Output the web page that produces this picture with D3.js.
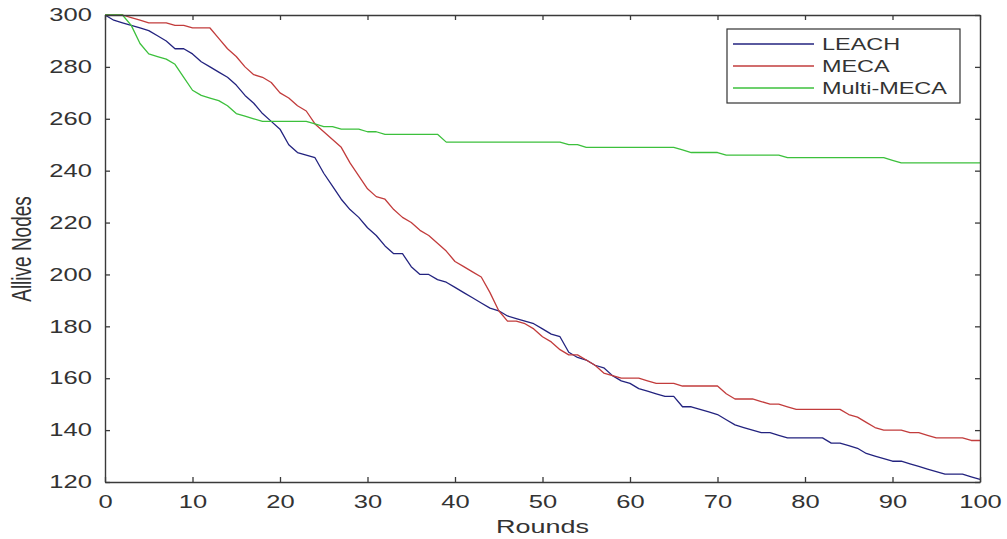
<!DOCTYPE html>
<html>
<head>
<meta charset="utf-8">
<script src="https://cdn.jsdelivr.net/npm/d3@7/dist/d3.min.js"></script>
<style>
html,body{margin:0;padding:0;background:#fff;}
svg{display:block;}
text{font-family:"Liberation Sans",Arial,Helvetica,sans-serif;fill:#333;}
</style>
</head>
<body>
<svg id="chart" width="1007" height="539"></svg>
<script>
// ---- data ----
const xTicks = [0,10,20,30,40,50,60,70,80,90,100];
const yTicks = [120,140,160,180,200,220,240,260,280,300];
const seriesNames = ["LEACH","MECA","Multi-MECA"];
const seriesColors = ["#23237f","#c23c3c","#3cc03c"];

const leach = [
300,298,297,296,295,294,292,290,287,287,
285,282,280,278,276,273,269,266,262,259,
256,250,247,246,245,239,234,229,225,222,
218,215,211,208,208,203,200,200,198,197,
195,193,191,189,187,186,184,183,182,181,
179,177,176,170,168,167,165,164,161,159,
158,156,155,154,153,153,149,149,148,147,
146,144,142,141,140,139,139,138,137,137,
137,137,137,135,135,134,133,131,130,129,
128,128,127,126,125,124,123,123,123,122,
121];

const meca = [
300,300,300,299,298,297,297,297,296,296,
295,295,295,291,287,284,280,277,276,274,
270,268,265,263,258,255,252,249,243,238,
233,230,229,225,222,220,217,215,212,209,
205,203,201,199,193,186,182,182,181,179,
176,174,171,169,169,167,165,162,161,160,
160,160,159,158,158,158,157,157,157,157,
157,154,152,152,152,151,150,150,149,148,
148,148,148,148,148,146,145,143,141,140,
140,140,139,139,138,137,137,137,137,136,
136];

const multiMeca = [
300,300,300,296,289,285,284,283,281,276,
271,269,268,267,265,262,261,260,259,259,
259,259,259,259,258,257,257,256,256,256,
255,255,254,254,254,254,254,254,254,251,
251,251,251,251,251,251,251,251,251,251,
251,251,251,250,250,249,249,249,249,249,
249,249,249,249,249,249,248,247,247,247,
247,246,246,246,246,246,246,246,245,245,
245,245,245,245,245,245,245,245,245,245,
244,243,243,243,243,243,243,243,243,243,
243];

const allSeries = [leach, meca, multiMeca];

// ---- layout ----
const L = 105, R = 980, T = 15, B = 482;
const SX = 1.42; // horizontal stretch of text in the reference
const svg = d3.select("#chart");
const x = d3.scaleLinear().domain([0,100]).range([L,R]);
const y = d3.scaleLinear().domain([120,300]).range([B,T]);

// lines
const line = d3.line().x((d,i)=>x(i)).y(d=>y(d));
svg.append("g").selectAll("path").data(allSeries).join("path")
  .attr("d", d=>line(d))
  .attr("fill","none")
  .attr("stroke",(d,i)=>seriesColors[i])
  .attr("stroke-width",1.3)
  .attr("stroke-linejoin","round");

// axes
function styleAxis(g){
  g.selectAll(".domain").attr("stroke","#3a3a3a").attr("stroke-width",1.4);
  g.selectAll(".tick line").attr("stroke","#3a3a3a").attr("stroke-width",1.3);
}
const gx = svg.append("g").attr("transform",`translate(0,${B})`)
  .call(d3.axisBottom(x).tickValues(xTicks).tickSizeInner(-5).tickSizeOuter(0).tickPadding(13));
styleAxis(gx);
gx.selectAll(".tick text").attr("font-size",18).attr("fill","#333")
  .attr("transform",`scale(${SX},1)`);

const gy = svg.append("g").attr("transform",`translate(${L},0)`)
  .call(d3.axisLeft(y).tickValues(yTicks).tickSizeInner(-5).tickSizeOuter(0).tickPadding(13));
styleAxis(gy);
gy.selectAll(".tick text").attr("font-size",18).attr("fill","#333")
  .attr("x",-13/SX).attr("transform",`scale(${SX},1)`);

const gt = svg.append("g").attr("transform",`translate(0,${T})`)
  .call(d3.axisTop(x).tickValues(xTicks).tickSizeInner(-5).tickSizeOuter(0).tickFormat(""));
styleAxis(gt);
const gr = svg.append("g").attr("transform",`translate(${R},0)`)
  .call(d3.axisRight(y).tickValues(yTicks).tickSizeInner(-5).tickSizeOuter(0).tickFormat(""));
styleAxis(gr);

// axis titles
svg.append("text").attr("text-anchor","middle").attr("font-size",19)
  .attr("transform",`translate(${(L+R)/2},533) scale(${SX},1)`)
  .text("Rounds");
svg.append("text").attr("text-anchor","middle").attr("font-size",19)
  .attr("transform",`translate(31,249) scale(${SX},1) rotate(-90)`)
  .text("Allive Nodes");

// legend
const lg = svg.append("g");
lg.append("rect").attr("x",727).attr("y",29).attr("width",233).attr("height",74)
  .attr("fill","#fff").attr("stroke","#333").attr("stroke-width",1.2);
const rowsY = [44,66,88];
seriesNames.forEach((n,i)=>{
  lg.append("line").attr("x1",733).attr("x2",814).attr("y1",rowsY[i]).attr("y2",rowsY[i])
    .attr("stroke",seriesColors[i]).attr("stroke-width",1.3);
  lg.append("text").attr("font-size",16.5).attr("dominant-baseline","central")
    .attr("transform",`translate(822,${rowsY[i]}) scale(${SX},1)`)
    .text(n);
});
</script>
</body>
</html>
